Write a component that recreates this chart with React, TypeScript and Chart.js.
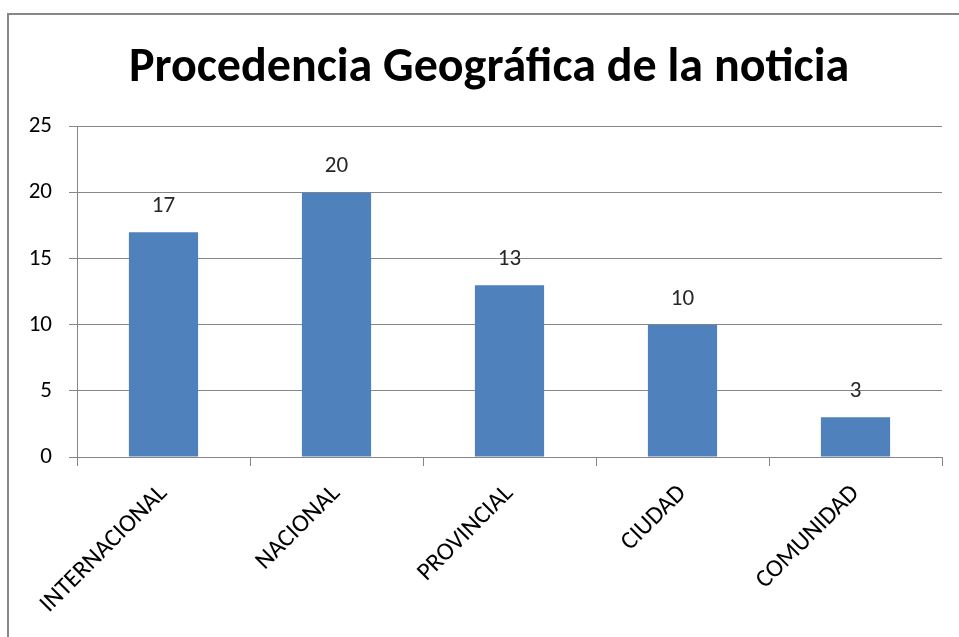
import React, { useEffect, useRef } from "react";
import { Chart, registerables } from "chart.js";

Chart.register(...registerables);

const TITLE = "Procedencia Geográfica de la noticia";
const categories = ["INTERNACIONAL", "NACIONAL", "PROVINCIAL", "CIUDAD", "COMUNIDAD"];
const values = [17, 20, 13, 10, 3];
const yMin = 0;
const yMax = 25;
const yStep = 5;

const FONT = "Carlito, Lato, 'Liberation Sans', sans-serif";

const framePlugin = {
  id: "frame",
  beforeDraw(chart: any) {
    const ctx = chart.ctx;
    ctx.save();
    ctx.fillStyle = "#ffffff";
    ctx.fillRect(0, 0, chart.width, chart.height);
    ctx.strokeStyle = "#878787";
    ctx.lineWidth = 2;
    ctx.beginPath();
    ctx.moveTo(8, chart.height);
    ctx.lineTo(8, 14);
    ctx.lineTo(chart.width, 14);
    ctx.stroke();
    ctx.restore();
  },
};

const valueLabelPlugin = {
  id: "valueLabels",
  afterDatasetsDraw(chart: any) {
    const ctx = chart.ctx;
    ctx.save();
    ctx.font = `23px ${FONT}`;
    ctx.fillStyle = "#262626";
    ctx.textAlign = "center";
    ctx.textBaseline = "middle";
    chart.data.datasets.forEach((ds: any, di: number) => {
      const meta = chart.getDatasetMeta(di);
      meta.data.forEach((el: any, i: number) => {
        ctx.fillText(String(ds.data[i]), el.x, el.y - 26);
      });
    });
    ctx.restore();
  },
};

export default function App() {
  const ref = useRef<HTMLCanvasElement>(null);
  useEffect(() => {
    if (!ref.current) return;
    const chart = new Chart(ref.current, {
      type: "bar",
      data: {
        labels: categories,
        datasets: [
          {
            data: values,
            backgroundColor: "#4f81bd",
            barPercentage: 0.4,
            categoryPercentage: 1,
            yAxisID: "y",
          },
        ],
      },
      options: {
        animation: false,
        responsive: false,
        layout: { padding: { left: 20, right: 1, top: 0, bottom: 0 } },
        plugins: {
          legend: { display: false },
          tooltip: { enabled: false },
          title: {
            display: true,
            text: TITLE,
            color: "#000000",
            font: { family: FONT, size: 48, weight: "bold" },
            padding: { top: 40, bottom: 29 },
          },
        },
        scales: {
          x: {
            offset: true,
            grid: {
              offset: true,
              drawOnChartArea: false,
              color: "#878787",
              tickLength: 9,
            },
            border: { color: "#878787" },
            ticks: {
              color: "#000000",
              font: { family: FONT, size: 25 },
              minRotation: 45,
              maxRotation: 45,
              padding: 13,
            },
            afterFit(scale: any) {
              scale.height = 180;
            },
          },
          y: {
            position: "left",
            min: yMin,
            max: yMax,
            grid: { color: "#878787", tickLength: 8 },
            border: { color: "#878787" },
            ticks: {
              stepSize: yStep,
              color: "#000000",
              font: { family: FONT, size: 23 },
              padding: 17,
            },
            afterFit(scale: any) {
              scale.width = 57;
            },
          },
          spacer: {
            type: "linear",
            position: "right",
            display: true,
            min: 0,
            max: 1,
            grid: { display: false, drawOnChartArea: false },
            border: { display: false },
            ticks: { display: false },
            afterFit(scale: any) {
              scale.width = 16;
            },
          },
        },
      },
      plugins: [framePlugin, valueLabelPlugin],
    });
    return () => chart.destroy();
  }, []);
  return (
    <div style={{ position: "fixed", left: 0, top: 0, width: 959, height: 637 }}>
      <canvas ref={ref} width={959} height={637} />
    </div>
  );
}
